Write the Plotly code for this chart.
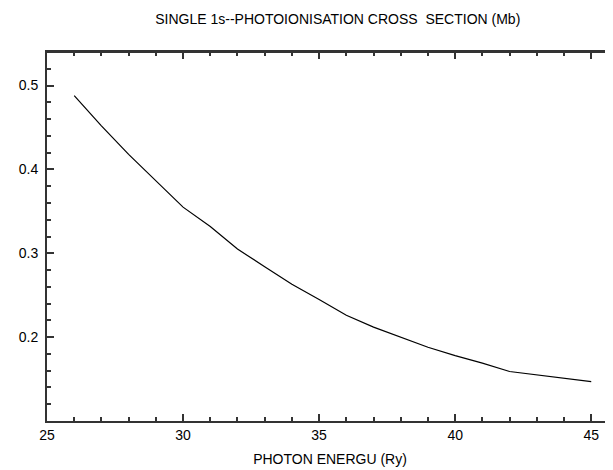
import plotly.graph_objects as go

energy = [26, 27, 28, 29, 30, 31, 32, 33, 34, 35, 36, 37, 38, 39, 40, 41, 42, 43, 44, 45]
cross_section = [0.488, 0.452, 0.418, 0.387, 0.355, 0.332, 0.305, 0.284, 0.263, 0.245,
                 0.226, 0.212, 0.200, 0.188, 0.178, 0.169, 0.159, 0.155, 0.151, 0.147]
x_ticks = [25, 30, 35, 40, 45]
y_ticks = [0.2, 0.3, 0.4, 0.5]
y_tick_text = ["0.2", "0.3", "0.4", "0.5"]

FONT = "Liberation Sans, Arial, sans-serif"
AXC = "#333333"
H = 470
OFF = 8  # default page body margin offsets the figure

fig = go.Figure()
fig.add_trace(go.Scatter(x=energy, y=cross_section, mode="lines",
                         line=dict(color="black", width=1.2), showlegend=False))
# invisible trace carrying the top and right frame axes
fig.add_trace(go.Scatter(x=energy, y=cross_section, mode="lines", xaxis="x2", yaxis="y2",
                         line=dict(color="rgba(0,0,0,0)", width=0), hoverinfo="skip",
                         showlegend=False))

fig.update_layout(
    width=613, height=H,
    margin=dict(l=47 - OFF, r=OFF, t=52 - OFF, b=49 + OFF, autoexpand=False),
    paper_bgcolor="white", plot_bgcolor="white",
    font=dict(family=FONT, size=14, color="black"),
    title=dict(text="SINGLE 1s--PHOTOIONISATION CROSS\u00a0 SECTION (Mb)",
               x=0.538, xanchor="center", y=1 - (19 - OFF) / H, yanchor="middle",
               automargin=False,
               font=dict(family=FONT, size=14, color="black")),
    xaxis=dict(range=[25, 45.8], tickvals=x_ticks, ticktext=[str(v) for v in x_ticks],
               ticks="inside", ticklen=7, tickwidth=1.5, tickcolor=AXC,
               showline=True, linewidth=2, linecolor=AXC, mirror=False,
               showgrid=False, zeroline=False, automargin=False,
               minor=dict(dtick=1, tick0=25, ticks="inside", ticklen=4, tickwidth=1.5,
                          tickcolor=AXC, showgrid=False),
               tickfont=dict(size=14),
               title=dict(text="PHOTON ENERGU (Ry)", font=dict(size=14), standoff=12)),
    xaxis2=dict(range=[25, 45.8], overlaying="x", side="top", anchor="y2",
                tickvals=x_ticks, showticklabels=False,
                ticks="inside", ticklen=7, tickwidth=1.5, tickcolor=AXC,
                showline=True, linewidth=2, linecolor=AXC,
                showgrid=False, zeroline=False, automargin=False,
                minor=dict(dtick=1, tick0=25, ticks="inside", ticklen=4, tickwidth=1.5,
                           tickcolor=AXC, showgrid=False)),
    yaxis=dict(range=[0.1, 0.54], tickvals=y_ticks, ticktext=y_tick_text,
               ticks="inside", ticklen=7, tickwidth=1.5, tickcolor=AXC,
               showline=True, linewidth=2, linecolor=AXC, mirror=False,
               showgrid=False, zeroline=False, ticklabelstandoff=4, automargin=False,
               minor=dict(dtick=0.02, tick0=0.1, ticks="inside", ticklen=4, tickwidth=1.5,
                          tickcolor=AXC, showgrid=False),
               tickfont=dict(size=14)),
    yaxis2=dict(range=[0.1, 0.54], overlaying="y", side="right", anchor="x2",
                tickvals=y_ticks,
                ticks="inside", ticklen=3, tickwidth=1.5, tickcolor=AXC, automargin=False,
                showline=False, showgrid=False, zeroline=False, showticklabels=False),
    shapes=[dict(type="line", xref="paper", yref="paper", x0=0, x1=1, y0=1, y1=1,
                 line=dict(color=AXC, width=2), layer="above")],
)

fig.write_html("out.html", config={"displayModeBar": False})
